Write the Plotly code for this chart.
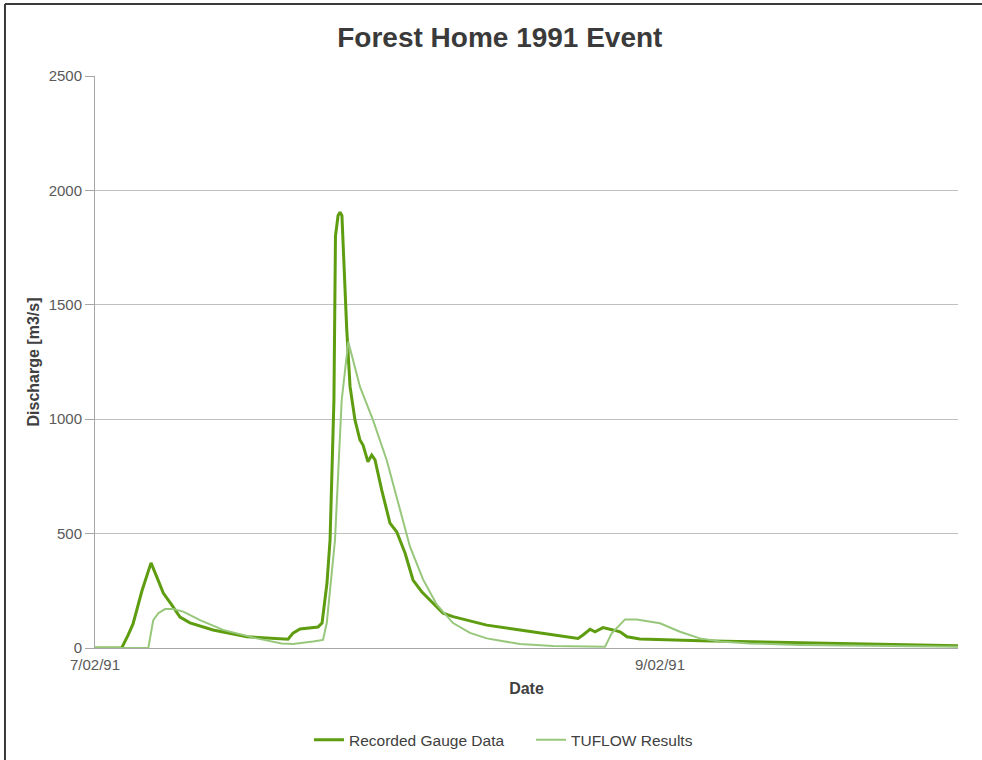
import plotly.graph_objects as go

# Hours since 7/02/91 00:00
gauge_hours = [0.0, 2.27, 2.80, 3.23, 3.99, 4.76, 5.24, 5.80, 6.52, 7.22, 8.07, 10.03, 12.91,
               15.72, 16.40, 16.82, 17.42, 18.95, 19.29, 19.71, 19.97, 20.30, 20.43, 20.65,
               20.82, 20.98, 21.16, 21.38, 21.67, 22.09, 22.51, 22.77, 23.19, 23.51, 23.79,
               24.36, 25.06, 25.63, 26.34, 27.02, 27.76, 28.72, 29.57, 30.42, 33.28, 36.11,
               38.91, 41.04, 41.46, 42.06, 42.48, 43.16, 44.01, 44.61, 45.20, 46.30, 51.40,
               59.90, 73.32]
gauge_flow = [0, 0, 55, 105, 250, 372, 312, 240, 188, 135, 110, 79, 49,
              39, 38, 65, 83, 92, 109, 284, 472, 1084, 1800, 1890,
              1905, 1890, 1667, 1400, 1142, 996, 909, 887, 814, 843, 822,
              690, 546, 508, 415, 297, 246, 195, 152, 137, 100, 79,
              57, 42, 57, 82, 71, 89, 79, 71, 49, 39, 32,
              23, 10]

tuflow_hours = [0.0, 4.53, 4.95, 5.38, 5.95, 6.65, 7.50, 8.92, 10.88, 13.74, 15.86, 16.82,
                18.52, 19.37, 19.69, 20.11, 20.39, 20.96, 21.52, 22.51, 23.62, 24.78, 25.63,
                26.76, 27.87, 29.03, 30.42, 31.86, 33.28, 36.11, 38.91, 43.33, 43.90, 45.03,
                46.02, 48.00, 49.70, 51.40, 53.10, 55.65, 59.90, 66.69, 73.32]
tuflow_flow = [0, 0, 122, 152, 170, 170, 159, 122, 79, 42, 20, 17,
               28, 35, 109, 328, 472, 1084, 1339, 1142, 996, 822, 661,
               443, 300, 190, 109, 66, 42, 17, 9, 6, 64, 125,
               125, 108, 71, 42, 28, 20, 13, 8, 5]

x_tick_vals = [0, 48]
x_tick_text = ["7/02/91", "9/02/91"]
y_tick_vals = [0, 500, 1000, 1500, 2000, 2500]

fig = go.Figure()
fig.add_trace(go.Scatter(x=gauge_hours, y=gauge_flow, mode="lines", name="Recorded Gauge Data",
                         line=dict(color="#5e9c10", width=3)))
fig.add_trace(go.Scatter(x=tuflow_hours, y=tuflow_flow, mode="lines", name="TUFLOW Results",
                         line=dict(color="#97c77a", width=2)))

font_family = "Liberation Sans, Arial, sans-serif"
fig.update_layout(
    width=982, height=760,
    margin=dict(l=95, r=24, t=76, b=112),
    paper_bgcolor="white", plot_bgcolor="white",
    font=dict(family=font_family, color="#595959", size=15),
    title=dict(text="<b>Forest Home 1991 Event</b>", x=0.509, xanchor="center", y=0.951, yanchor="middle",
               font=dict(size=28, color="#3a3a3a", family=font_family)),
    xaxis=dict(range=[0, 73.32], tickvals=x_tick_vals, ticktext=x_tick_text,
               showgrid=False, zeroline=False, showline=True, linecolor="#a6a6a6", linewidth=1,
               ticks="", tickfont=dict(size=15, color="#595959"), ticklabelstandoff=3,
               automargin=False,
               title=dict(text="<b>Date</b>", font=dict(size=16, color="#404040"), standoff=10)),
    yaxis=dict(range=[0, 2500], tickvals=y_tick_vals, showgrid=True, gridcolor="#bfbfbf", gridwidth=1,
               zeroline=False, showline=True, linecolor="#a6a6a6", linewidth=1,
               ticks="outside", ticklen=9, tickcolor="#a6a6a6",
               tickfont=dict(size=15, color="#595959"), automargin=False,
               title=dict(text="<b>Discharge [m3/s]</b>", font=dict(size=16, color="#404040"), standoff=5)),
    legend=dict(orientation="h", xref="container", yref="container", x=0.5407, xanchor="center",
                y=0.026, yanchor="middle", entrywidth=177, entrywidthmode="pixels",
                font=dict(size=15.5, color="#404040"), bgcolor="rgba(0,0,0,0)"),
    showlegend=True,
)

# Outer frame (left and top edges visible in the reference)
fig.add_shape(type="line", xref="paper", yref="paper", x0=-0.1043, x1=-0.1043, y0=1.1259, y1=-0.196,
              line=dict(color="#3a3a3a", width=2))
fig.add_shape(type="line", xref="paper", yref="paper", x0=-0.1043, x1=1.03, y0=1.1259, y1=1.1259,
              line=dict(color="#3a3a3a", width=2))

fig.write_html("out.html", config={"displayModeBar": False},
               post_script="document.body.style.margin='0px';")
